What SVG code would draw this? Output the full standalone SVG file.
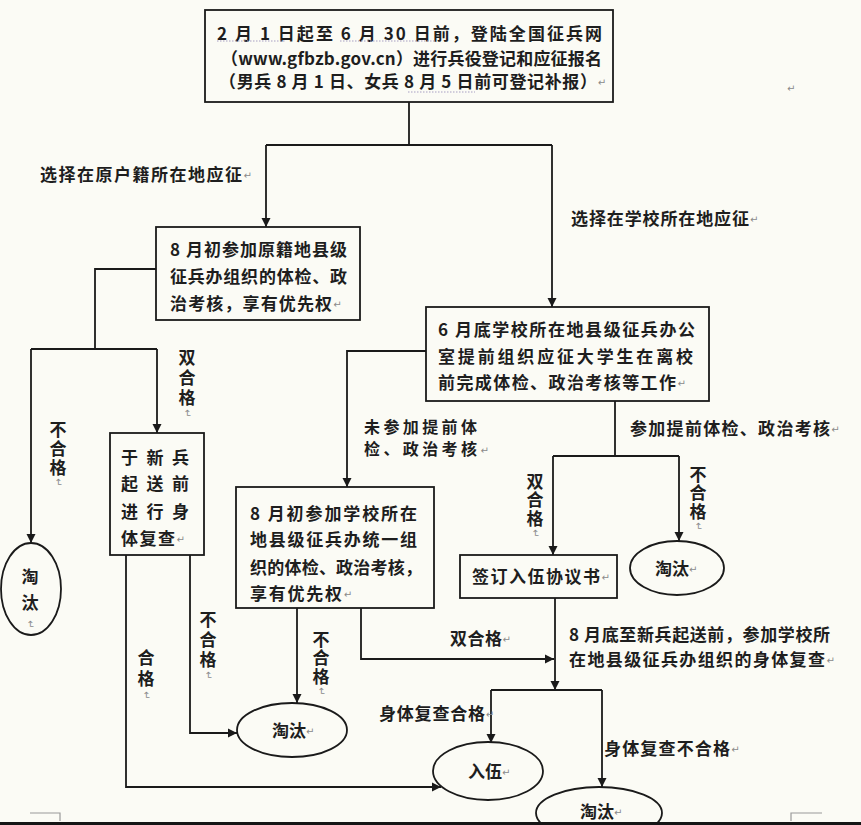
<svg xmlns="http://www.w3.org/2000/svg" width="861" height="825" viewBox="0 0 861 825">
<style>
.bg{fill:#fbfbf5}
.box{fill:#fbfbf5;stroke:#1a1a1a;stroke-width:1.8}
.ln{fill:none;stroke:#1a1a1a;stroke-width:1.8}
.t{font-family:'Noto Sans CJK SC','Noto Sans',sans-serif;font-size:17px;font-weight:700;fill:#1e1e1e;dominant-baseline:central}
.s16{font-size:16px}
.vt{writing-mode:vertical-rl}
.pm{font-family:'DejaVu Sans',sans-serif;font-size:10px;font-weight:400;fill:#8a8a8a}
.dot{stroke:#a79fc4;stroke-width:1.2;stroke-dasharray:1.5 1.5;fill:none}
.cm{stroke:#9a9a9a;stroke-width:1.2;fill:none}
</style>
<defs>
<marker id="ah" viewBox="0 0 10 10" refX="10" refY="5" markerWidth="9" markerHeight="10" markerUnits="userSpaceOnUse" orient="auto">
<path d="M0,0 L10,5 L0,10 z" fill="#1a1a1a"/>
</marker>
</defs>
<rect class="bg" x="0" y="0" width="861" height="825"/>

<g id="connectors">
<path class="ln" d="M409,102 V145"/>
<path class="ln" d="M266,145 H552"/>
<path class="ln" d="M266,145 V227" marker-end="url(#ah)"/>
<path class="ln" d="M552,145 V307" marker-end="url(#ah)"/>
<path class="ln" d="M156,269 H95 V349"/>
<path class="ln" d="M31,349 H157"/>
<path class="ln" d="M31,349 V543" marker-end="url(#ah)"/>
<path class="ln" d="M157,349 V433" marker-end="url(#ah)"/>
<path class="ln" d="M426,351 H347 V487" marker-end="url(#ah)"/>
<path class="ln" d="M615,401 V456"/>
<path class="ln" d="M553,456 H679"/>
<path class="ln" d="M553,456 V555" marker-end="url(#ah)"/>
<path class="ln" d="M679,456 V541" marker-end="url(#ah)"/>
<path class="ln" d="M126,555 V787 H441" marker-end="url(#ah)"/>
<path class="ln" d="M190,555 V733 H237" marker-end="url(#ah)"/>
<path class="ln" d="M297,608 V703" marker-end="url(#ah)"/>
<path class="ln" d="M361,608 V659 H554" marker-end="url(#ah)"/>
<path class="ln" d="M555,598 V690" marker-end="url(#ah)"/>
<path class="ln" d="M491,690 H602"/>
<path class="ln" d="M491,690 V743" marker-end="url(#ah)"/>
<path class="ln" d="M602,690 V787" marker-end="url(#ah)"/>
</g>

<g id="n-register">
<rect class="box" x="205" y="10" width="408" height="92"/>
<text class="t"><tspan x="217" y="32" textLength="385" lengthAdjust="spacing">2 月 1 日起至 6 月 30 日前，登陆全国征兵网</tspan><tspan x="221" y="57" textLength="381" lengthAdjust="spacing">（www.gfbzb.gov.cn）进行兵役登记和应征报名</tspan><tspan x="219" y="80" textLength="378" lengthAdjust="spacing">（男兵 8 月 1 日、女兵 8 月 5 日前可登记补报）</tspan><tspan class="pm" dy="2">↵</tspan></text>
<path class="dot" d="M217,41 H285 M340,41 H435 M408,92 H475"/>
</g>
<text class="t" x="787" y="88"><tspan class="pm">↵</tspan></text>

<g id="n-hometown">
<rect class="box" x="156" y="227" width="204" height="93"/>
<text class="t"><tspan x="170" y="248" textLength="177" lengthAdjust="spacing">8 月初参加原籍地县级</tspan><tspan x="170" y="275" textLength="177" lengthAdjust="spacing">征兵办组织的体检、政</tspan><tspan x="170" y="302" textLength="162" lengthAdjust="spacing">治考核，享有优先权</tspan><tspan class="pm" dy="2">↵</tspan></text>
</g>

<g id="n-recheck">
<rect class="box" x="110" y="433" width="94" height="122"/>
<text class="t"><tspan x="121" y="456" textLength="68" lengthAdjust="spacing">于 新 兵</tspan><tspan x="121" y="482" textLength="68" lengthAdjust="spacing">起 送 前</tspan><tspan x="121" y="510" textLength="68" lengthAdjust="spacing">进 行 身</tspan><tspan x="121" y="537" textLength="54" lengthAdjust="spacing">体复查</tspan><tspan class="pm" dy="2">↵</tspan></text>
</g>

<g id="n-school-early">
<rect class="box" x="426" y="307" width="283" height="94"/>
<text class="t"><tspan x="438" y="328" textLength="257" lengthAdjust="spacing">6 月底学校所在地县级征兵办公</tspan><tspan x="438" y="355" textLength="255" lengthAdjust="spacing">室提前组织应征大学生在离校</tspan><tspan x="438" y="381" textLength="238" lengthAdjust="spacing">前完成体检、政治考核等工作</tspan><tspan class="pm" dy="2">↵</tspan></text>
</g>

<g id="n-school-aug">
<rect class="box" x="236" y="487" width="198" height="121"/>
<text class="t"><tspan x="250" y="512" textLength="167" lengthAdjust="spacing">8 月初参加学校所在</tspan><tspan x="250" y="538" textLength="167" lengthAdjust="spacing">地县级征兵办统一组</tspan><tspan x="250" y="566" textLength="172" lengthAdjust="spacing">织的体检、政治考核，</tspan><tspan x="250" y="592" textLength="92" lengthAdjust="spacing">享有优先权</tspan><tspan class="pm" dy="2">↵</tspan></text>
</g>

<g id="n-agreement">
<rect class="box" x="460" y="555" width="157" height="43"/>
<text class="t"><tspan x="472" y="575" textLength="128" lengthAdjust="spacing">签订入伍协议书</tspan><tspan class="pm" dy="2">↵</tspan></text>
</g>

<g id="n-out-left">
<ellipse class="box" cx="31" cy="589" rx="30" ry="46"/>
<text class="t vt" x="30" y="568" letter-spacing="9">淘汰<tspan class="pm" letter-spacing="0">↵</tspan></text>
</g>

<g id="n-out-right">
<ellipse class="box" cx="677" cy="568" rx="47" ry="27"/>
<text class="t" x="655" y="567">淘汰<tspan class="pm" dy="2">↵</tspan></text>
</g>

<g id="n-out-mid">
<ellipse class="box" cx="292" cy="730" rx="55" ry="27"/>
<text class="t" x="272" y="729">淘汰<tspan class="pm" dy="2">↵</tspan></text>
</g>

<g id="n-enlist">
<ellipse class="box" cx="488" cy="771" rx="55" ry="29"/>
<text class="t" x="468" y="770">入伍<tspan class="pm" dy="2">↵</tspan></text>
</g>

<g id="n-out-bottom">
<ellipse class="box" cx="599" cy="813" rx="63" ry="26"/>
<text class="t" x="580" y="810">淘汰<tspan class="pm" dy="2">↵</tspan></text>
</g>

<g id="labels">
<text class="t"><tspan x="40" y="173" textLength="202" lengthAdjust="spacing">选择在原户籍所在地应征</tspan><tspan class="pm" dy="2">↵</tspan></text>
<text class="t"><tspan x="571" y="217" textLength="178" lengthAdjust="spacing">选择在学校所在地应征</tspan><tspan class="pm" dy="2">↵</tspan></text>

<text class="t vt" x="187" y="349" letter-spacing="3">双合格<tspan class="pm">↵</tspan></text>
<text class="t vt" x="58" y="421" letter-spacing="2">不合格<tspan class="pm">↵</tspan></text>

<text class="t s16"><tspan x="364" y="426" textLength="113" lengthAdjust="spacing">未参加提前体</tspan><tspan x="364" y="448" textLength="113" lengthAdjust="spacing">检、政治考核</tspan><tspan class="pm" dy="2">↵</tspan></text>
<text class="t"><tspan x="630" y="427" textLength="200" lengthAdjust="spacing">参加提前体检、政治考核</tspan><tspan class="pm" dy="2">↵</tspan></text>

<text class="t vt" x="535" y="473" letter-spacing="1.5">双合格<tspan class="pm">↵</tspan></text>
<text class="t vt" x="698" y="466" letter-spacing="1.5">不合格<tspan class="pm">↵</tspan></text>

<text class="t vt" x="146" y="649" letter-spacing="4">合格<tspan class="pm">↵</tspan></text>
<text class="t vt" x="208" y="611" letter-spacing="3">不合格<tspan class="pm">↵</tspan></text>
<text class="t vt" x="321" y="631" letter-spacing="1.5">不合格<tspan class="pm">↵</tspan></text>

<text class="t"><tspan x="450" y="637" textLength="52" lengthAdjust="spacing">双合格</tspan><tspan class="pm" dy="2">↵</tspan></text>
<text class="t"><tspan x="569" y="633" textLength="261" lengthAdjust="spacing">8 月底至新兵起送前，参加学校所</tspan><tspan x="569" y="658" textLength="256" lengthAdjust="spacing">在地县级征兵办组织的身体复查</tspan><tspan class="pm" dy="2">↵</tspan></text>
<text class="t"><tspan x="379" y="712" textLength="106" lengthAdjust="spacing">身体复查合格</tspan><tspan class="pm" dy="2">↵</tspan></text>
<text class="t"><tspan x="604" y="747" textLength="126" lengthAdjust="spacing">身体复查不合格</tspan><tspan class="pm" dy="2">↵</tspan></text>
</g>

<path class="cm" d="M30,813 H60 V821 M791,821 V813 H822"/>
<rect x="0" y="822" width="861" height="3" fill="#151515"/>
</svg>
